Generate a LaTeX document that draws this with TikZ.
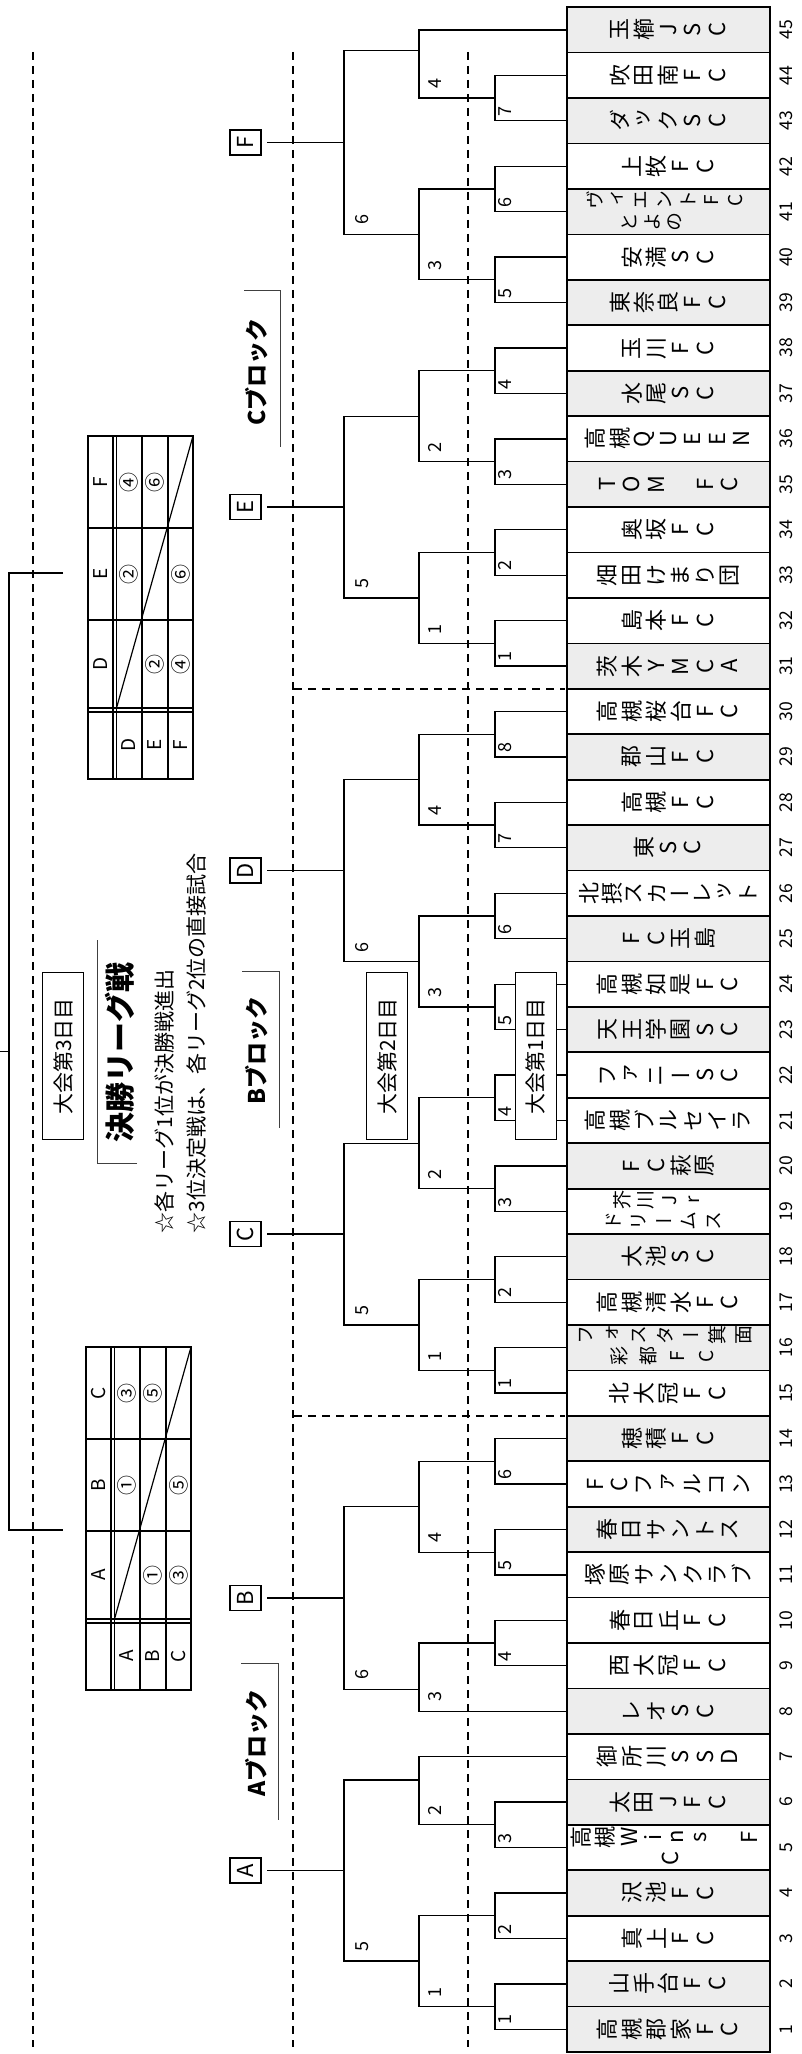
\documentclass[tikz,border=0pt]{standalone}
\usepackage{fontspec}
\setmainfont{Noto Sans CJK JP}
\newfontfamily\tatefont[RawFeature=+vert]{Noto Sans CJK JP}
\usetikzlibrary{positioning}

\tikzset{
  team/.style={draw, line width=0.85pt, rotate=90, minimum width=22.72pt, minimum height=101.5pt, inner sep=0pt},
  grayfill/.style={fill=black!7},
  tchar/.style={rotate=90, inner sep=0pt, font=\tatefont\fontsize{11pt}{11pt}\selectfont},
  num/.style={rotate=90, inner sep=0pt, font=\fontsize{8.8pt}{9pt}\selectfont},
  lab/.style={rotate=90, anchor=north west, inner sep=0pt, font=\fontsize{9pt}{9pt}\selectfont},
  brk/.style={line width=0.65pt},
  letter/.style={draw, line width=0.6pt, rotate=90, minimum width=12.5pt, minimum height=15.5pt,
    inner sep=0pt, outer sep=3pt, font=\fontsize{11pt}{11pt}\selectfont},
  daybox/.style={draw, fill=white, line width=0.5pt, rotate=90, minimum width=83.5pt,
    minimum height=20.5pt, inner sep=0pt, font=\fontsize{10.5pt}{10.5pt}\selectfont},
  dashline/.style={line width=0.7pt, dash pattern=on 4pt off 3pt},
  blk/.style={rotate=90, inner sep=0pt, font=\bfseries\fontsize{11.5pt}{11.5pt}\selectfont},
  corner/.style={line width=0.45pt, black!75},
  tbl/.style={line width=0.6pt},
  cell/.style={rotate=90, inner sep=0pt, font=\fontsize{9.5pt}{9.5pt}\selectfont},
  circ/.style={rotate=90, inner sep=0pt, font=\fontsize{10pt}{10pt}\selectfont},
  small/.style={tchar/.append style={font=\tatefont\fontsize{9.5pt}{9.5pt}\selectfont}},
}

% one upright column of characters: name, x centre, y, pitch, characters
\newcommand{\tatename}[5]{%
  \foreach \ch [count=\k] in {#5} {\global\let\tatecount\k}%
  \foreach \ch [count=\k] in {#5} {%
    \node[tchar] (#1c\k) at ({#2+(\k-(\tatecount+1)/2)*#4},#3) {\ch};}%
}

\begin{document}
\begin{tikzpicture}[x=0.5pt, y=-0.5pt]

      \useasboundingbox (0,0) rectangle (802,2054);

      % teams
      \node[team, grayfill] (t1) at (668.5,2029.28) {};
      \node[team, grayfill] (t2) at (668.5,1983.84) {};
      \node[team] (t3) at (668.5,1938.40) {};
      \node[team, grayfill] (t4) at (668.5,1892.96) {};
      \node[team] (t5) at (668.5,1847.52) {};
      \node[team, grayfill] (t6) at (668.5,1802.08) {};
      \node[team] (t7) at (668.5,1756.64) {};
      \node[team, grayfill] (t8) at (668.5,1711.20) {};
      \node[team] (t9) at (668.5,1665.76) {};
      \node[team] (t10) at (668.5,1620.32) {};
      \node[team] (t11) at (668.5,1574.88) {};
      \node[team, grayfill] (t12) at (668.5,1529.44) {};
      \node[team] (t13) at (668.5,1484.00) {};
      \node[team, grayfill] (t14) at (668.5,1438.56) {};
      \node[team] (t15) at (668.5,1393.12) {};
      \node[team, grayfill] (t16) at (668.5,1347.68) {};
      \node[team] (t17) at (668.5,1302.24) {};
      \node[team, grayfill] (t18) at (668.5,1256.80) {};
      \node[team] (t19) at (668.5,1211.36) {};
      \node[team, grayfill] (t20) at (668.5,1165.92) {};
      \node[team] (t21) at (668.5,1120.48) {};
      \node[team] (t22) at (668.5,1075.04) {};
      \node[team, grayfill] (t23) at (668.5,1029.60) {};
      \node[team] (t24) at (668.5,984.16) {};
      \node[team, grayfill] (t25) at (668.5,938.72) {};
      \node[team] (t26) at (668.5,893.28) {};
      \node[team, grayfill] (t27) at (668.5,847.84) {};
      \node[team] (t28) at (668.5,802.40) {};
      \node[team, grayfill] (t29) at (668.5,756.96) {};
      \node[team] (t30) at (668.5,711.52) {};
      \node[team, grayfill] (t31) at (668.5,666.08) {};
      \node[team] (t32) at (668.5,620.64) {};
      \node[team] (t33) at (668.5,575.20) {};
      \node[team] (t34) at (668.5,529.76) {};
      \node[team, grayfill] (t35) at (668.5,484.32) {};
      \node[team] (t36) at (668.5,438.88) {};
      \node[team, grayfill] (t37) at (668.5,393.44) {};
      \node[team] (t38) at (668.5,348.00) {};
      \node[team, grayfill] (t39) at (668.5,302.56) {};
      \node[team] (t40) at (668.5,257.12) {};
      \node[team, grayfill] (t41) at (668.5,211.68) {};
      \node[team] (t42) at (668.5,166.24) {};
      \node[team, grayfill] (t43) at (668.5,120.80) {};
      \node[team] (t44) at (668.5,75.36) {};
      \node[team, grayfill] (t45) at (668.5,29.92) {};

      % team names
      \tatename{t1}{668.5}{2029.28}{24.4}{高,槻,郡,家,F,C}
      \tatename{t2}{668.5}{1983.84}{24.4}{山,手,台,F,C}
      \tatename{t3}{668.5}{1938.40}{24.4}{真,上,F,C}
      \tatename{t4}{668.5}{1892.96}{24.4}{沢,池,F,C}
      \tatename{t5a}{665}{1837}{24}{高,槻,W,i,n,s,,F}
      \tatename{t5b}{670}{1858}{24}{C}
      \tatename{t6}{668.5}{1802.08}{24.4}{太,田,J,F,C}
      \tatename{t7}{668.5}{1756.64}{24.4}{御,所,川,S,S,D}
      \tatename{t8}{668.5}{1711.20}{24.4}{レ,オ,S,C}
      \tatename{t9}{668.5}{1665.76}{24.4}{西,大,冠,F,C}
      \tatename{t10}{668.5}{1620.32}{24.4}{春,日,丘,F,C}
      \tatename{t11}{668.5}{1574.88}{24.4}{塚,原,サ,ン,ク,ラ,ブ}
      \tatename{t12}{668.5}{1529.44}{24.4}{春,日,サ,ン,ト,ス}
      \tatename{t13}{668.5}{1484.00}{24.4}{F,C,フ,ァ,ル,コ,ン}
      \tatename{t14}{668.5}{1438.56}{24.4}{穂,積,F,C}
      \tatename{t15}{668.5}{1393.12}{24.4}{北,大,冠,F,C}
      \begin{scope}[small]
      \tatename{t16a}{665}{1335}{26.3}{フ,ォ,ス,タ,ー,箕,面}
      \tatename{t16b}{663}{1356}{29}{彩,都,F,C}
      \end{scope}
      \tatename{t17}{668.5}{1302.24}{24.4}{高,槻,清,水,F,C}
      \tatename{t18}{668.5}{1256.80}{24.4}{大,池,S,C}
      \begin{scope}[small]
      \tatename{t19a}{658}{1200}{24}{芥,川,J,r}
      \tatename{t19b}{664}{1221}{25}{ド,リ,ー,ム,ス}
      \end{scope}
      \tatename{t20}{668.5}{1165.92}{24.4}{F,C,萩,原}
      \tatename{t21}{668.5}{1120.48}{24.4}{高,槻,ブ,ル,セ,イ,ラ}
      \tatename{t22}{668.5}{1075.04}{24.4}{フ,ァ,ニ,ー,S,C}
      \tatename{t23}{668.5}{1029.60}{24.4}{天,王,学,園,S,C}
      \tatename{t24}{668.5}{984.16}{24.4}{高,槻,如,是,F,C}
      \tatename{t25}{668.5}{938.72}{24.4}{F,C,玉,島}
      \tatename{t26}{668.5}{893.28}{22.7}{北,摂,ス,カ,ー,レ,ッ,ト}
      \tatename{t27}{668.5}{847.84}{24.4}{東,S,C}
      \tatename{t28}{668.5}{802.40}{24.4}{高,槻,F,C}
      \tatename{t29}{668.5}{756.96}{24.4}{郡,山,F,C}
      \tatename{t30}{668.5}{711.52}{24.4}{高,槻,桜,台,F,C}
      \tatename{t31}{668.5}{666.08}{24.4}{茨,木,Y,M,C,A}
      \tatename{t32}{668.5}{620.64}{24.4}{島,本,F,C}
      \tatename{t33}{668.5}{575.20}{24.4}{畑,田,け,ま,り,団}
      \tatename{t34}{668.5}{529.76}{24.4}{奥,坂,F,C}
      \tatename{t35}{668.5}{484.32}{24.4}{T,O,M,,F,C}
      \tatename{t36}{668.5}{438.88}{24.4}{高,槻,Q,U,E,E,N}
      \tatename{t37}{668.5}{393.44}{24.4}{水,尾,S,C}
      \tatename{t38}{668.5}{348.00}{24.4}{玉,川,F,C}
      \tatename{t39}{668.5}{302.56}{24.4}{東,奈,良,F,C}
      \tatename{t40}{668.5}{257.12}{24.4}{安,満,S,C}
      \begin{scope}[small]
      \tatename{t41a}{665}{200}{23.5}{ヴ,ィ,エ,ン,ト,F,C}
      \tatename{t41b}{652}{222}{22.5}{と,よ,の}
      \end{scope}
      \tatename{t42}{668.5}{166.24}{24.4}{上,牧,F,C}
      \tatename{t43}{668.5}{120.80}{24.4}{ダ,ッ,ク,S,C}
      \tatename{t44}{668.5}{75.36}{24.4}{吹,田,南,F,C}
      \tatename{t45}{668.5}{29.92}{24.4}{玉,櫛,J,S,C}

      % numbers
      \node[num] (n1) at (786,2029.28) {1};
      \node[num] (n2) at (786,1983.84) {2};
      \node[num] (n3) at (786,1938.40) {3};
      \node[num] (n4) at (786,1892.96) {4};
      \node[num] (n5) at (786,1847.52) {5};
      \node[num] (n6) at (786,1802.08) {6};
      \node[num] (n7) at (786,1756.64) {7};
      \node[num] (n8) at (786,1711.20) {8};
      \node[num] (n9) at (786,1665.76) {9};
      \node[num] (n10) at (786,1620.32) {10};
      \node[num] (n11) at (786,1574.88) {11};
      \node[num] (n12) at (786,1529.44) {12};
      \node[num] (n13) at (786,1484.00) {13};
      \node[num] (n14) at (786,1438.56) {14};
      \node[num] (n15) at (786,1393.12) {15};
      \node[num] (n16) at (786,1347.68) {16};
      \node[num] (n17) at (786,1302.24) {17};
      \node[num] (n18) at (786,1256.80) {18};
      \node[num] (n19) at (786,1211.36) {19};
      \node[num] (n20) at (786,1165.92) {20};
      \node[num] (n21) at (786,1120.48) {21};
      \node[num] (n22) at (786,1075.04) {22};
      \node[num] (n23) at (786,1029.60) {23};
      \node[num] (n24) at (786,984.16) {24};
      \node[num] (n25) at (786,938.72) {25};
      \node[num] (n26) at (786,893.28) {26};
      \node[num] (n27) at (786,847.84) {27};
      \node[num] (n28) at (786,802.40) {28};
      \node[num] (n29) at (786,756.96) {29};
      \node[num] (n30) at (786,711.52) {30};
      \node[num] (n31) at (786,666.08) {31};
      \node[num] (n32) at (786,620.64) {32};
      \node[num] (n33) at (786,575.20) {33};
      \node[num] (n34) at (786,529.76) {34};
      \node[num] (n35) at (786,484.32) {35};
      \node[num] (n36) at (786,438.88) {36};
      \node[num] (n37) at (786,393.44) {37};
      \node[num] (n38) at (786,348.00) {38};
      \node[num] (n39) at (786,302.56) {39};
      \node[num] (n40) at (786,257.12) {40};
      \node[num] (n41) at (786,211.68) {41};
      \node[num] (n42) at (786,166.24) {42};
      \node[num] (n43) at (786,120.80) {43};
      \node[num] (n44) at (786,75.36) {44};
      \node[num] (n45) at (786,29.92) {45};

      % dashed guides
      \draw[dashline] (468,52)--(468,2047);
      \draw[dashline] (293,52)--(293,2047);
      \draw[dashline] (33,52)--(33,2047);
      \draw[dashline] (294,688.8)--(565,688.8);
      \draw[dashline] (294,1415.84)--(565,1415.84);

      % first games
      \coordinate (m1) at (495,2006.56);
      \coordinate (m3) at (495,1915.68);
      \coordinate (m5) at (495,1824.80);
      \coordinate (m9) at (495,1643.04);
      \coordinate (m11) at (495,1552.16);
      \coordinate (m13) at (495,1461.28);
      \coordinate (m15) at (495,1370.40);
      \coordinate (m17) at (495,1279.52);
      \coordinate (m19) at (495,1188.64);
      \coordinate (m21) at (495,1097.76);
      \coordinate (m23) at (495,1006.88);
      \coordinate (m25) at (495,916.00);
      \coordinate (m27) at (495,825.12);
      \coordinate (m29) at (495,734.24);
      \coordinate (m31) at (495,643.36);
      \coordinate (m33) at (495,552.48);
      \coordinate (m35) at (495,461.60);
      \coordinate (m37) at (495,370.72);
      \coordinate (m39) at (495,279.84);
      \coordinate (m41) at (495,188.96);
      \coordinate (m43) at (495,98.08);

      \draw[brk] (t1.north) -| (m1) |- (t2.north);
      \draw[brk] (t3.north) -| (m3) |- (t4.north);
      \draw[brk] (t5.north) -| (m5) |- (t6.north);
      \draw[brk] (t9.north) -| (m9) |- (t10.north);
      \draw[brk] (t11.north) -| (m11) |- (t12.north);
      \draw[brk] (t13.north) -| (m13) |- (t14.north);
      \draw[brk] (t15.north) -| (m15) |- (t16.north);
      \draw[brk] (t17.north) -| (m17) |- (t18.north);
      \draw[brk] (t19.north) -| (m19) |- (t20.north);
      \draw[brk] (t21.north) -| (m21) |- (t22.north);
      \draw[brk] (t23.north) -| (m23) |- (t24.north);
      \draw[brk] (t25.north) -| (m25) |- (t26.north);
      \draw[brk] (t27.north) -| (m27) |- (t28.north);
      \draw[brk] (t29.north) -| (m29) |- (t30.north);
      \draw[brk] (t31.north) -| (m31) |- (t32.north);
      \draw[brk] (t33.north) -| (m33) |- (t34.north);
      \draw[brk] (t35.north) -| (m35) |- (t36.north);
      \draw[brk] (t37.north) -| (m37) |- (t38.north);
      \draw[brk] (t39.north) -| (m39) |- (t40.north);
      \draw[brk] (t41.north) -| (m41) |- (t42.north);
      \draw[brk] (t43.north) -| (m43) |- (t44.north);

      % second games
      \coordinate (ma1) at (419,1961.12);
      \coordinate (ma2) at (419,1780.00);
      \coordinate (mb1) at (419,1689.30);
      \coordinate (mb2) at (419,1506.72);
      \coordinate (mc1) at (419,1324.96);
      \coordinate (mc2) at (419,1143.20);
      \coordinate (md1) at (419,961.44);
      \coordinate (md2) at (419,779.68);
      \coordinate (me1) at (419,597.92);
      \coordinate (me2) at (419,416.16);
      \coordinate (mf1) at (419,234.40);
      \coordinate (mf2) at (419,50.70);

      \draw[brk] (m1) -| (ma1) |- (m3);
      \draw[brk] (m5) -| (ma2) |- (t7.north);
      \draw[brk] (t8.north) -| (mb1) |- (m9);
      \draw[brk] (m11) -| (mb2) |- (m13);
      \draw[brk] (m15) -| (mc1) |- (m17);
      \draw[brk] (m19) -| (mc2) |- (m21);
      \draw[brk] (m23) -| (md1) |- (m25);
      \draw[brk] (m27) -| (md2) |- (m29);
      \draw[brk] (m31) -| (me1) |- (m33);
      \draw[brk] (m35) -| (me2) |- (m37);
      \draw[brk] (m39) -| (mf1) |- (m41);
      \draw[brk] (m43) -| (mf2) |- (t45.north);

      % block finals
      \coordinate (ja) at (344,1870.56);
      \coordinate (jb) at (344,1598.00);
      \coordinate (jc) at (344,1234.08);
      \coordinate (jd) at (344,870.56);
      \coordinate (je) at (344,507.04);
      \coordinate (jf) at (344,142.55);

      \draw[brk] (ma1) -| (ja) |- (ma2);
      \draw[brk] (mb1) -| (jb) |- (mb2);
      \draw[brk] (mc1) -| (jc) |- (mc2);
      \draw[brk] (md1) -| (jd) |- (md2);
      \draw[brk] (me1) -| (je) |- (me2);
      \draw[brk] (mf1) -| (jf) |- (mf2);

      \node[letter] (boxA) at (245.5,1870.56) {A};
      \node[letter] (boxB) at (245.5,1598.00) {B};
      \node[letter] (boxC) at (245.5,1234.08) {C};
      \node[letter] (boxD) at (245.5,870.56) {D};
      \node[letter] (boxE) at (245.5,507.04) {E};
      \node[letter] (boxF) at (245.5,142.55) {F};
      \draw[brk] (boxA)--(ja);
      \draw[brk] (boxB)--(jb);
      \draw[brk] (boxC)--(jc);
      \draw[brk] (boxD)--(jd);
      \draw[brk] (boxE)--(je);
      \draw[brk] (boxF)--(jf);

      % game numbers
      \node[lab] (lm1) at (498,2025.3) {1};
      \node[lab] (lm3) at (498,1934.4) {2};
      \node[lab] (lm5) at (498,1843.5) {3};
      \node[lab] (lm9) at (498,1661.8) {4};
      \node[lab] (lm11) at (498,1570.9) {5};
      \node[lab] (lm13) at (498,1480.0) {6};
      \node[lab] (lm15) at (498,1389.1) {1};
      \node[lab] (lm17) at (498,1298.2) {2};
      \node[lab] (lm19) at (498,1207.4) {3};
      \node[lab] (lm21) at (498,1116.5) {4};
      \node[lab] (lm23) at (498,1025.6) {5};
      \node[lab] (lm25) at (498,934.7) {6};
      \node[lab] (lm27) at (498,843.8) {7};
      \node[lab] (lm29) at (498,753.0) {8};
      \node[lab] (lm31) at (498,662.1) {1};
      \node[lab] (lm33) at (498,571.2) {2};
      \node[lab] (lm35) at (498,480.3) {3};
      \node[lab] (lm37) at (498,389.4) {4};
      \node[lab] (lm39) at (498,298.6) {5};
      \node[lab] (lm41) at (498,207.7) {6};
      \node[lab] (lm43) at (498,116.8) {7};

      \node[lab] (lma1) at (428,1997.6) {1};
      \node[lab] (lma2) at (428,1815.8) {2};
      \node[lab] (lmb1) at (428,1702.2) {3};
      \node[lab] (lmb2) at (428,1543.2) {4};
      \node[lab] (lmc1) at (428,1361.4) {1};
      \node[lab] (lmc2) at (428,1179.6) {2};
      \node[lab] (lmd1) at (428,997.9) {3};
      \node[lab] (lmd2) at (428,816.1) {4};
      \node[lab] (lme1) at (428,634.4) {1};
      \node[lab] (lme2) at (428,452.6) {2};
      \node[lab] (lmf1) at (428,270.8) {3};
      \node[lab] (lmf2) at (428,89.1) {4};

      \node[lab] (lja) at (355,1952.1) {5};
      \node[lab] (ljb) at (355,1680.3) {6};
      \node[lab] (ljc) at (355,1316.0) {5};
      \node[lab] (ljd) at (355,952.4) {6};
      \node[lab] (lje) at (355,588.9) {5};
      \node[lab] (ljf) at (355,225.4) {6};

      % day boxes
      \node[daybox] (day1) at (535.5,1056.4) {大会第1日目};
      \node[daybox] (day2) at (387,1056.4) {大会第2日目};
      \node[daybox] (day3) at (63,1056.4) {大会第3日目};

      % block titles
      \node[blk] (blkA) at (257,1743) {Aブロック};
      \node[blk] (blkB) at (257,1050) {Bブロック};
      \node[blk] (blkC) at (257,372) {Cブロック};
      \draw[corner] (241,1663)--(278,1663)--(278,1820);
      \draw[corner] (242,971.7)--(279,971.7)--(279,1128);
      \draw[corner] (244,290)--(280,290)--(280,447);

      % final league
      \node[rotate=90, inner sep=0pt, font=\bfseries\fontsize{15pt}{15pt}\selectfont] (final) at (120,1052) {決勝リーグ戦};
      \draw[corner] (137,1163)--(97,1163)--(97,940);
      \node[rotate=90, anchor=west, inner sep=0pt, font=\fontsize{10.5pt}{10.5pt}\selectfont] (note1) at (164,1234) {☆各リーグ1位が決勝戦進出};
      \node[rotate=90, anchor=west, inner sep=0pt, font=\fontsize{10.5pt}{10.5pt}\selectfont] (note2) at (196,1234) {☆3位決定戦は、各リーグ2位の直接試合};

      \coordinate (fDEF) at (63,573);
      \coordinate (fABC) at (63,1530);
      \coordinate (fin) at (9,1051.5);
      \coordinate (fout) at (0,1051.5);
      \draw[brk] (fDEF) -| (fin) |- (fABC);
      \draw[brk] (fin)--(fout);

      % league table A B C
      \draw[tbl] (86,1347) rectangle (191,1690);
      \draw[tbl] (111,1347)--(111,1690);
      \draw[tbl] (114.5,1347)--(114.5,1690);
      \draw[tbl] (140,1347)--(140,1690);
      \draw[tbl] (166,1347)--(166,1690);
      \draw[tbl] (86,1439)--(191,1439);
      \draw[tbl] (86,1531)--(191,1531);
      \draw[tbl] (86,1619)--(191,1619);
      \draw[tbl] (86,1623)--(191,1623);
      \draw[tbl] (114.5,1619)--(191,1347);
      \node[cell] (hC) at (98.5,1393) {C};
      \node[cell] (hB) at (98.5,1485) {B};
      \node[cell] (hA) at (98.5,1575) {A};
      \node[cell] (rA) at (127,1656) {A};
      \node[cell] (rB) at (153,1656) {B};
      \node[cell] (rC) at (178.5,1656) {C};
      \node[circ] (cAB) at (127,1485) {①};
      \node[circ] (cAC) at (127,1393) {③};
      \node[circ] (cBA) at (153,1575) {①};
      \node[circ] (cBC) at (153,1393) {⑤};
      \node[circ] (cCA) at (178.5,1575) {③};
      \node[circ] (cCB) at (178.5,1485) {⑤};

      % league table D E F
      \begin{scope}[shift={(2,-911)}]
      \draw[tbl] (86,1347) rectangle (191,1690);
      \draw[tbl] (111,1347)--(111,1690);
      \draw[tbl] (114.5,1347)--(114.5,1690);
      \draw[tbl] (140,1347)--(140,1690);
      \draw[tbl] (166,1347)--(166,1690);
      \draw[tbl] (86,1439)--(191,1439);
      \draw[tbl] (86,1531)--(191,1531);
      \draw[tbl] (86,1619)--(191,1619);
      \draw[tbl] (86,1623)--(191,1623);
      \draw[tbl] (114.5,1619)--(191,1347);
      \node[cell] (hF) at (98.5,1393) {F};
      \node[cell] (hE) at (98.5,1485) {E};
      \node[cell] (hD) at (98.5,1575) {D};
      \node[cell] (rD) at (127,1656) {D};
      \node[cell] (rE) at (153,1656) {E};
      \node[cell] (rF) at (178.5,1656) {F};
      \node[circ] (cDE) at (127,1485) {②};
      \node[circ] (cDF) at (127,1393) {④};
      \node[circ] (cED) at (153,1575) {②};
      \node[circ] (cEF) at (153,1393) {⑥};
      \node[circ] (cFD) at (178.5,1575) {④};
      \node[circ] (cFE) at (178.5,1485) {⑥};
      \end{scope}

    \end{tikzpicture}
\end{document}
